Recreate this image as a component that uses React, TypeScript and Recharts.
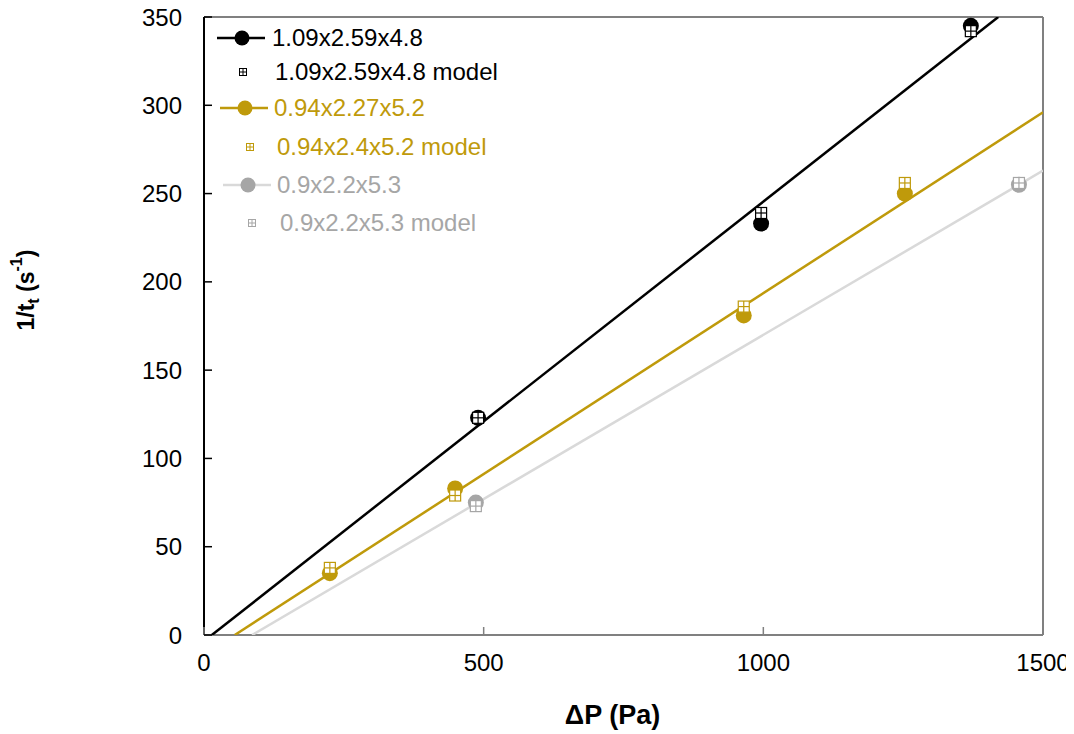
import { ComposedChart, Scatter, XAxis, YAxis, Label } from 'recharts';

// axis ticks
const xTicks = [0, 500, 1000, 1500];
const yTicks = [0, 50, 100, 150, 200, 250, 300, 350];

// 1.09x2.59x4.8
const measuredA = [
  { x: 490, y: 123 },
  { x: 996, y: 233 },
  { x: 1371, y: 345 },
];
const modelA = [
  { x: 490, y: 123 },
  { x: 996, y: 239 },
  { x: 1371, y: 342 },
];
const fitA = [
  { x: 14, y: 0 },
  { x: 1420, y: 350 },
];

// 0.94x2.27x5.2
const measuredB = [
  { x: 225, y: 35 },
  { x: 449, y: 83 },
  { x: 965, y: 181 },
  { x: 1253, y: 250 },
];
const modelB = [
  { x: 225, y: 38 },
  { x: 449, y: 79 },
  { x: 965, y: 186 },
  { x: 1253, y: 256 },
];
const fitB = [
  { x: 55, y: 0 },
  { x: 1500, y: 296 },
];

// 0.9x2.2x5.3
const measuredC = [
  { x: 486, y: 75 },
  { x: 1457, y: 255 },
];
const modelC = [
  { x: 486, y: 73 },
  { x: 1457, y: 256 },
];
const fitC = [
  { x: 86, y: 0 },
  { x: 1500, y: 263 },
];

const BLACK = '#000000';
const GOLD = '#bf9a0b';
const GREY = '#a6a6a6';
const GREY_LINE = '#d9d9d9';
const FRAME = '#808080';
const FONT = 'Arial, "Liberation Sans", sans-serif';

const legendRows = [
  { label: '1.09x2.59x4.8', color: BLACK, line: BLACK, kind: 'circle', top: 38, icon: 217, text: 272 },
  { label: '1.09x2.59x4.8 model', color: BLACK, line: BLACK, kind: 'square', top: 72, icon: 217, text: 275 },
  { label: '0.94x2.27x5.2', color: GOLD, line: GOLD, kind: 'circle', top: 108, icon: 220, text: 274 },
  { label: '0.94x2.4x5.2 model', color: GOLD, line: GOLD, kind: 'square', top: 147, icon: 224, text: 277 },
  { label: '0.9x2.2x5.3', color: GREY, line: GREY_LINE, kind: 'circle', top: 185, icon: 223, text: 277 },
  { label: '0.9x2.2x5.3 model', color: GREY, line: GREY_LINE, kind: 'square', top: 223, icon: 226, text: 280 },
];

const Y_GAP = 22;
const X_GAP = 27;
const TICK_LEN = 8;
const TICK_FONT = 24;

function LeftTick(props: any) {
  const { x, y, payload } = props;
  const ax = x + Y_GAP;
  return (
    <g>
      <line x1={ax} x2={ax + TICK_LEN} y1={y} y2={y} stroke={BLACK} strokeWidth={1.5} />
      <text x={x} y={y} textAnchor="end" dominantBaseline="central" fontSize={TICK_FONT} fontFamily={FONT} fill="#000">
        {payload.value}
      </text>
    </g>
  );
}

function BottomTick(props: any) {
  const { x, y, payload } = props;
  const ay = y - X_GAP;
  return (
    <g>
      <line x1={x} x2={x} y1={ay} y2={ay - TICK_LEN} stroke={FRAME} strokeWidth={1.5} />
      <text x={x} y={y} textAnchor="middle" dominantBaseline="central" fontSize={TICK_FONT} fontFamily={FONT} fill="#000">
        {payload.value}
      </text>
    </g>
  );
}

function RightTick(props: any) {
  const { x, y } = props;
  const ax = x - 2;
  return <line x1={ax} x2={ax - TICK_LEN} y1={y} y2={y} stroke={FRAME} strokeWidth={1.5} />;
}

function TopTick(props: any) {
  const { x, y } = props;
  const ay = y + 2;
  return <line x1={x} x2={x} y1={ay} y2={ay + TICK_LEN} stroke={FRAME} strokeWidth={1.5} />;
}

function makeDot(color: string) {
  return (props: any) => <circle cx={props.cx} cy={props.cy} r={8} fill={color} />;
}

function makeSquare(color: string, s = 11) {
  return (props: any) => {
    const { cx, cy } = props;
    const h = s / 2;
    return (
      <g>
        <rect x={cx - h} y={cy - h} width={s} height={s} fill="#fff" stroke={color} strokeWidth={1.2} />
        <line x1={cx} x2={cx} y1={cy - h} y2={cy + h} stroke={color} strokeWidth={1.2} />
        <line x1={cx - h} x2={cx + h} y1={cy} y2={cy} stroke={color} strokeWidth={1.2} />
      </g>
    );
  };
}

const noShape = () => <g />;

function XTitle(props: any) {
  const { viewBox } = props;
  return (
    <text
      x={viewBox.x + viewBox.width / 2 - 11}
      y={viewBox.y + 80}
      textAnchor="middle"
      dominantBaseline="central"
      fontSize={27}
      fontWeight="bold"
      fontFamily={FONT}
      fill="#000"
    >
      ΔP (Pa)
    </text>
  );
}

function YTitle(props: any) {
  const { viewBox } = props;
  const cx = viewBox.x + 2;
  const cy = viewBox.y + viewBox.height / 2 - 36;
  return (
    <text
      x={cx}
      y={cy}
      transform={`rotate(-90, ${cx}, ${cy})`}
      textAnchor="middle"
      dominantBaseline="central"
      fontSize={23}
      fontWeight="bold"
      fontFamily={FONT}
      fill="#000"
    >
      1/t
      <tspan fontSize={16} dy={7}>t</tspan>
      <tspan dy={-7}> (s</tspan>
      <tspan fontSize={16} dy={-10}>-1</tspan>
      <tspan dy={10}>)</tspan>
    </text>
  );
}

function LegendIcon({ row }: { row: (typeof legendRows)[number] }) {
  if (row.kind === 'circle') {
    return (
      <svg width={50} height={20} style={{ display: 'block' }}>
        <line x1={0} x2={48} y1={10} y2={10} stroke={row.line} strokeWidth={2.5} />
        <circle cx={25} cy={10} r={7.5} fill={row.color} />
      </svg>
    );
  }
  return (
    <svg width={50} height={20} style={{ display: 'block' }}>
      <rect x={22.5} y={6.5} width={7} height={7} fill="#fff" stroke={row.color} strokeWidth={1} />
      <line x1={26} x2={26} y1={6.5} y2={13.5} stroke={row.color} strokeWidth={1} />
      <line x1={22.5} x2={29.5} y1={10} y2={10} stroke={row.color} strokeWidth={1} />
    </svg>
  );
}

export default function App() {
  return (
    <div style={{ position: 'relative', width: 1066, height: 726, fontFamily: FONT }}>
      <ComposedChart width={1066} height={726} margin={{ top: 8, right: 30, bottom: 29, left: 16 }}>
        <XAxis
          type="number"
          dataKey="x"
          domain={[0, 1500]}
          ticks={xTicks}
          allowDataOverflow
          height={70}
          axisLine={{ stroke: FRAME, strokeWidth: 2 }}
          tickLine={false}
          tickSize={0}
          tickMargin={X_GAP}
          tick={<BottomTick />}
        >
          <Label content={<XTitle />} />
        </XAxis>
        <XAxis
          xAxisId="top"
          orientation="top"
          type="number"
          dataKey="x"
          domain={[0, 1500]}
          ticks={xTicks}
          height={1}
          axisLine={{ stroke: FRAME, strokeWidth: 2 }}
          tickLine={false}
          tickSize={0}
          tickMargin={0}
          tick={<TopTick />}
        />
        <YAxis
          type="number"
          dataKey="y"
          domain={[0, 350]}
          ticks={yTicks}
          allowDataOverflow
          width={180}
          axisLine={{ stroke: BLACK, strokeWidth: 2 }}
          tickLine={false}
          tickSize={0}
          tickMargin={Y_GAP}
          tick={<LeftTick />}
        >
          <Label content={<YTitle />} />
        </YAxis>
        <YAxis
          yAxisId="right"
          orientation="right"
          type="number"
          dataKey="y"
          domain={[0, 350]}
          ticks={yTicks}
          width={1}
          axisLine={{ stroke: FRAME, strokeWidth: 2 }}
          tickLine={false}
          tickSize={0}
          tickMargin={0}
          tick={<RightTick />}
        />

        <Scatter data={fitC} line={{ stroke: GREY_LINE, strokeWidth: 2.5 }} shape={noShape} isAnimationActive={false} />
        <Scatter data={fitB} line={{ stroke: GOLD, strokeWidth: 2.5 }} shape={noShape} isAnimationActive={false} />
        <Scatter data={fitA} line={{ stroke: BLACK, strokeWidth: 2.5 }} shape={noShape} isAnimationActive={false} />

        <Scatter data={measuredC} shape={makeDot(GREY)} isAnimationActive={false} />
        <Scatter data={measuredB} shape={makeDot(GOLD)} isAnimationActive={false} />
        <Scatter data={measuredA} shape={makeDot(BLACK)} isAnimationActive={false} />

        <Scatter data={modelC} shape={makeSquare(GREY)} isAnimationActive={false} />
        <Scatter data={modelB} shape={makeSquare(GOLD)} isAnimationActive={false} />
        <Scatter data={modelA} shape={makeSquare(BLACK)} isAnimationActive={false} />
      </ComposedChart>

      {legendRows.map((row) => (
        <div key={row.label}>
          <div style={{ position: 'absolute', left: row.icon - 8, top: row.top - 8 - 10 }}>
            <LegendIcon row={row} />
          </div>
          <div
            style={{
              position: 'absolute',
              left: row.text - 8,
              top: row.top - 8 - 14,
              height: 28,
              lineHeight: '28px',
              fontSize: 24,
              color: row.color,
              whiteSpace: 'nowrap',
            }}
          >
            {row.label}
          </div>
        </div>
      ))}
    </div>
  );
}
